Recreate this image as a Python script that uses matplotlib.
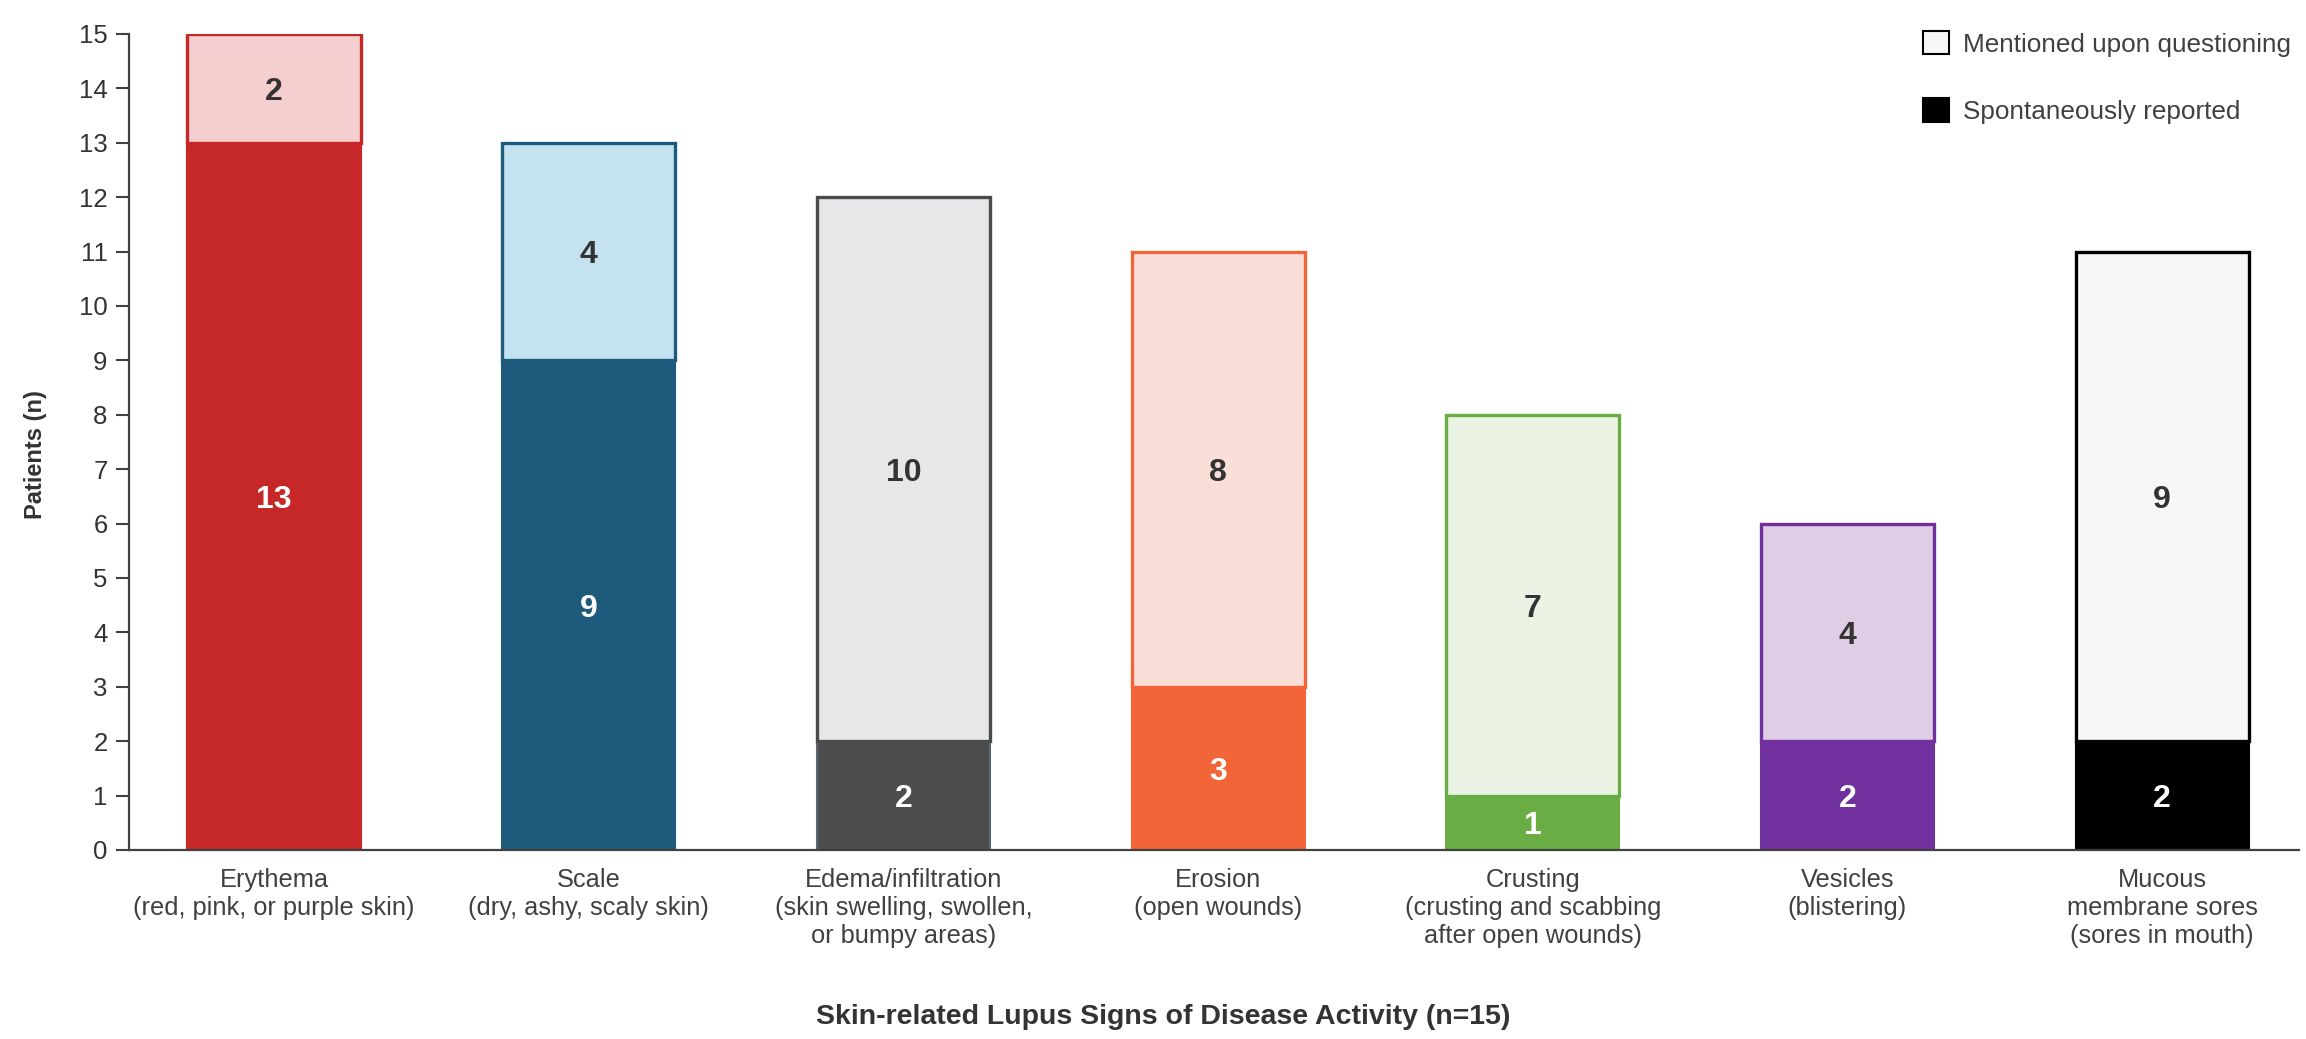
import matplotlib
matplotlib.use("Agg")
import matplotlib.pyplot as plt
from matplotlib.patches import Patch

plt.rcParams['font.family'] = ['Liberation Sans', 'DejaVu Sans']

categories = [
    "Erythema\n(red, pink, or purple skin)",
    "Scale\n(dry, ashy, scaly skin)",
    "Edema/infiltration\n(skin swelling, swollen,\nor bumpy areas)",
    "Erosion\n(open wounds)",
    "Crusting\n(crusting and scabbing\nafter open wounds)",
    "Vesicles\n(blistering)",
    "Mucous\nmembrane sores\n(sores in mouth)",
]
spontaneous = [13, 9, 2, 3, 1, 2, 2]
questioning = [2, 4, 10, 8, 7, 4, 9]
yticks = list(range(0, 16))
legend_labels = ["Mentioned upon questioning", "Spontaneously reported"]
xlabel = "Skin-related Lupus Signs of Disease Activity (n=15)"
ylabel = "Patients (n)"

dark = ['#C62828', '#1D5A7C', '#4D4D4D', '#F26539', '#6AAD45', '#70309E', '#000000']
light = ['#F5CFD0', '#C5E2F0', '#E7E7EA', '#FADFD8', '#EBF3E4', '#DECDE4', '#F7F7F7']
top_edge = ['#C62828', '#1D5A7C', '#4A4A4A', '#F26539', '#6AAD45', '#70309E', '#000000']
low_edge = ['#C62828', '#1D5A7C', '#5B6670', '#F26539', '#6AAD45', '#70309E', '#000000']

fig = plt.figure(figsize=(23.06, 10.39), dpi=100)
ax = fig.add_axes([0.05594, 0.18191, 0.94102, 0.78537])

x = list(range(len(categories)))
w = 0.55
ax.bar(x, spontaneous, width=w, color=dark, edgecolor=low_edge, linewidth=1.5, zorder=2)
ax.bar(x, questioning, width=w, bottom=spontaneous, color=light, edgecolor=top_edge,
       linewidth=2.4, zorder=2)

for i in x:
    ax.text(i, spontaneous[i] / 2, str(spontaneous[i]), ha='center', va='center_baseline',
            color='white', fontsize=23, fontweight='bold', zorder=3)
    ax.text(i, spontaneous[i] + questioning[i] / 2, str(questioning[i]), ha='center',
            va='center_baseline', color='#333333', fontsize=23, fontweight='bold', zorder=3)

ax.set_xlim(-0.4608, 6.4347)
ax.set_ylim(0, 15)
ax.set_yticks(yticks)
ax.set_xticks(x)
ax.set_xticklabels(categories, fontsize=18.3, color='#404040', linespacing=1.22)
ax.tick_params(axis='x', length=0, pad=13)
ax.tick_params(axis='y', length=9.4, width=1.5, color='#404040', labelsize=18.5,
               labelcolor='#333333', pad=6)

for s in ['top', 'right']:
    ax.spines[s].set_visible(False)
for s in ['left', 'bottom']:
    ax.spines[s].set_color('#404040')
    ax.spines[s].set_linewidth(1.6)

ax.set_ylabel(ylabel, fontsize=17, fontweight='bold', color='#333333')
ax.yaxis.set_label_coords(-0.038, 0.485)
ax.set_xlabel(xlabel, fontsize=20.5, fontweight='bold', color='#333333')
ax.xaxis.set_label_coords(0.4765, -0.189)

handles = [Patch(facecolor='#F7F7F7', edgecolor='#000000', linewidth=1.5),
           Patch(facecolor='#000000', edgecolor='#000000', linewidth=1.5)]
leg = fig.legend(handles, legend_labels, loc='upper left',
                 bbox_to_anchor=(1923 / 2306, 1 - 31 / 1039), frameon=False,
                 fontsize=18.8, handlelength=1.0, handleheight=1.0,
                 handletextpad=0.55, labelspacing=1.6, borderpad=0, borderaxespad=0)
for t in leg.get_texts():
    t.set_color('#404040')

fig.savefig('out.png', dpi=100)
